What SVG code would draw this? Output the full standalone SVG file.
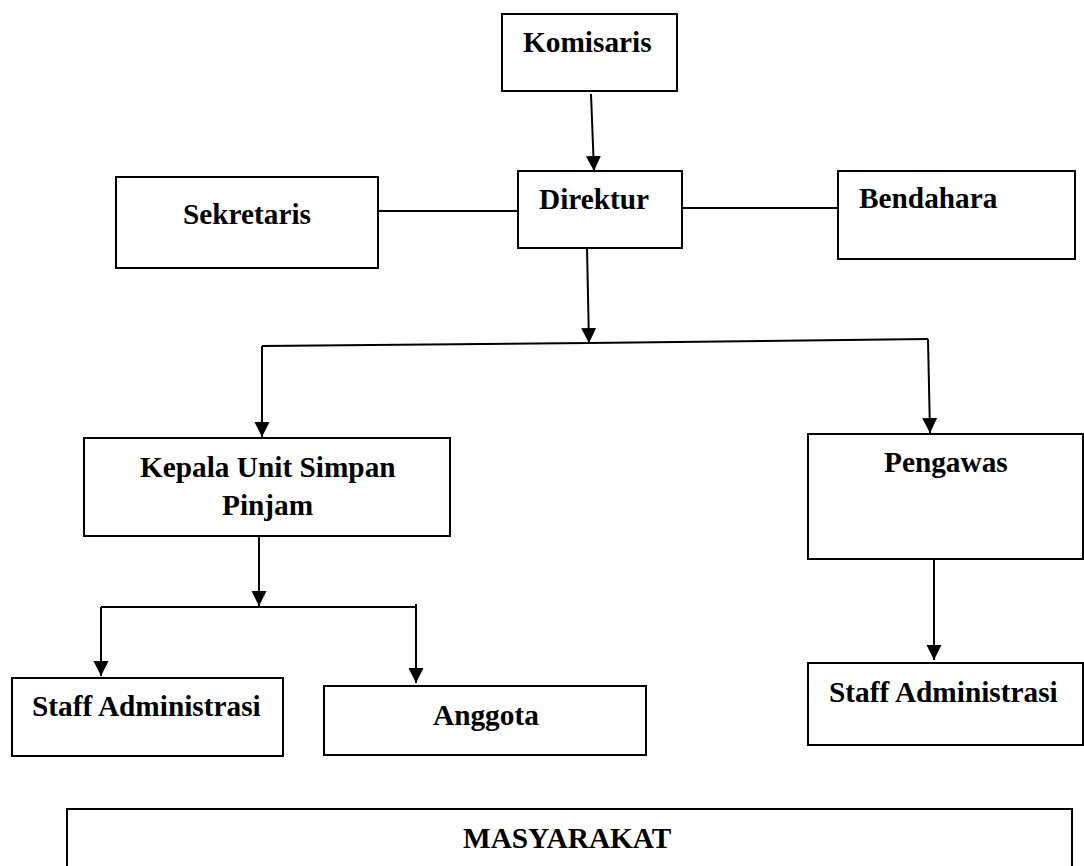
<svg xmlns="http://www.w3.org/2000/svg" width="1084" height="866" viewBox="0 0 1084 866">
<style>
.box{fill:#fff;stroke:#000;stroke-width:2}
.lbl{font-family:"Liberation Serif","Times New Roman",serif;font-weight:bold;font-size:29.3px;fill:#000}
.con{fill:none;stroke:#000;stroke-width:2}
</style>
<defs>
<marker id="arr" markerUnits="userSpaceOnUse" markerWidth="16" markerHeight="16" refX="15" refY="7.5" orient="auto">
<path d="M0,0 L15,7.5 L0,15 z" fill="#000"/>
</marker>
</defs>
<rect width="1084" height="866" fill="#fff"/>
<g id="connectors">
<path class="con" d="M591,94 L594,171" marker-end="url(#arr)"/>
<path class="con" d="M378,211 L518,211"/>
<path class="con" d="M682,208 L838,208"/>
<path class="con" d="M587,248 L589,343" marker-end="url(#arr)"/>
<path class="con" d="M262,346 L589,343 L928,339"/>
<path class="con" d="M262,346 L262,437" marker-end="url(#arr)"/>
<path class="con" d="M928,339 L930,433" marker-end="url(#arr)"/>
<path class="con" d="M259,536 L259,606" marker-end="url(#arr)"/>
<path class="con" d="M101,607 L416,607"/>
<path class="con" d="M101,607 L101,676" marker-end="url(#arr)"/>
<path class="con" d="M416,604 L416,683" marker-end="url(#arr)"/>
<path class="con" d="M934,559 L934,660" marker-end="url(#arr)"/>
</g>
<g id="komisaris"><rect class="box" x="502" y="14" width="175" height="77"/><text class="lbl" x="523" y="52">Komisaris</text></g>
<g id="direktur"><rect class="box" x="518" y="171" width="164" height="77"/><text class="lbl" x="539" y="209">Direktur</text></g>
<g id="sekretaris"><rect class="box" x="116" y="177" width="262" height="91"/><text class="lbl" x="183" y="224">Sekretaris</text></g>
<g id="bendahara"><rect class="box" x="838" y="171" width="237" height="88"/><text class="lbl" x="859" y="208">Bendahara</text></g>
<g id="kepala"><rect class="box" x="84" y="438" width="366" height="98"/><text class="lbl" x="140" y="477">Kepala Unit Simpan</text><text class="lbl" x="222" y="515">Pinjam</text></g>
<g id="pengawas"><rect class="box" x="808" y="434" width="275" height="125"/><text class="lbl" x="884" y="472">Pengawas</text></g>
<g id="staff1"><rect class="box" x="12" y="678" width="271" height="78"/><text class="lbl" x="32" y="716">Staff Administrasi</text></g>
<g id="anggota"><rect class="box" x="324" y="686" width="322" height="69"/><text class="lbl" x="433" y="725">Anggota</text></g>
<g id="staff2"><rect class="box" x="808" y="663" width="275" height="82"/><text class="lbl" x="829" y="702">Staff Administrasi</text></g>
<g id="masyarakat"><rect class="box" x="67" y="809" width="1005" height="80"/><text class="lbl" x="463" y="848">MASYARAKAT</text></g>
</svg>
